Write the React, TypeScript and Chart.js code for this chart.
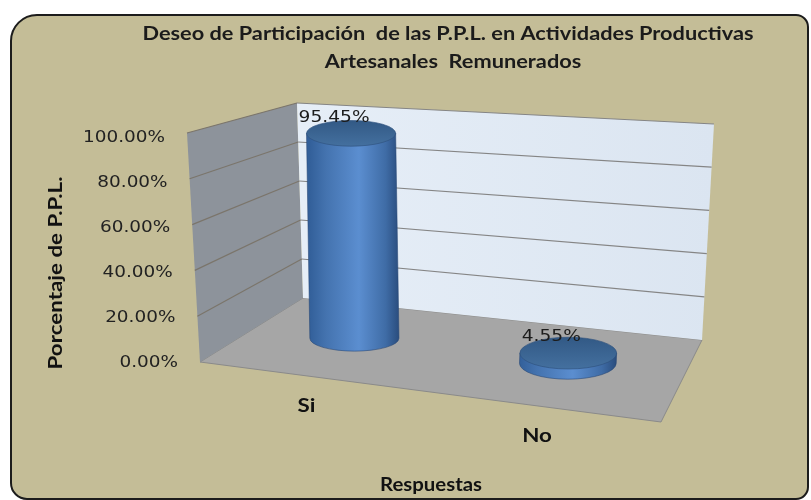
import React, { useEffect, useRef } from "react";
import { Chart, registerables } from "chart.js";

Chart.register(...registerables);

// ---------- data ----------
const titleLines = [
  "Deseo de Participación  de las P.P.L. en Actividades Productivas",
  "Artesanales  Remunerados",
];
const categories = ["Si", "No"];
const percentages = [95.45, 4.55];
const yTickValues = [0, 20, 40, 60, 80, 100];
const yAxisTitle = "Porcentaje de P.P.L.";
const xAxisTitle = "Respuestas";

// ---------- 3D box geometry (front/back, left/right, bottom/top) ----------
type Pt = [number, number];
const FLB: Pt = [200, 362];
const FRB: Pt = [661, 422];
const BLB: Pt = [303, 298];
const BRB: Pt = [702, 340];
const FLT: Pt = [187, 133];
const FRT: Pt = [681, 176];
const BLT: Pt = [297, 103];
const BRT: Pt = [714, 124];
const BAR_DEPTH = 0.55;
const BAR_SHIFT = -0.021;

const lerp = (a: Pt, b: Pt, t: number): Pt => [a[0] + (b[0] - a[0]) * t, a[1] + (b[1] - a[1]) * t];
function P(u: number, v: number, w: number): Pt {
  const fb = lerp(FLB, FRB, u);
  const bb = lerp(BLB, BRB, u);
  const ft = lerp(FLT, FRT, u);
  const bt = lerp(BLT, BRT, u);
  return lerp(lerp(fb, bb, w), lerp(ft, bt, w), v);
}

const pct = (n: number) => n.toFixed(2) + "%";

// horizontal scale factor so that text drawn at `size` has width `target`
function squeeze(ctx: CanvasRenderingContext2D, text: string, font: string, target: number) {
  ctx.font = font;
  return target / ctx.measureText(text).width;
}
function fillScaled(ctx: CanvasRenderingContext2D, text: string, x: number, y: number, sx: number, rot = 0) {
  ctx.save();
  ctx.translate(x, y);
  if (rot) ctx.rotate(rot);
  ctx.scale(sx, 1);
  ctx.fillText(text, 0, 0);
  ctx.restore();
}

function poly(ctx: CanvasRenderingContext2D, pts: Pt[]) {
  ctx.beginPath();
  ctx.moveTo(pts[0][0], pts[0][1]);
  for (let i = 1; i < pts.length; i++) ctx.lineTo(pts[i][0], pts[i][1]);
  ctx.closePath();
}

const BOLD_FONT = "bold 18.5px Lato, 'Open Sans', sans-serif";
const AXIS_FONT = "bold 18px Lato, 'Open Sans', sans-serif";
const TICK_FONT = "16.5px 'DejaVu Sans', Verdana, sans-serif";
const DATA_FONT = "16.5px 'DejaVu Sans', Verdana, sans-serif";

const scenePlugin = {
  id: "scene3d",
  beforeDatasetsDraw(chart: any) {
    const ctx: CanvasRenderingContext2D = chart.ctx;
    const area = chart.chartArea;
    const yScale = chart.scales.y;
    ctx.save();

    // frame
    ctx.fillStyle = "#ffffff";
    ctx.fillRect(0, 0, chart.width, chart.height);
    ctx.beginPath();
    (ctx as any).roundRect(11, 15, 797, 484, [26, 12, 12, 16]);
    ctx.fillStyle = "#C4BD97";
    ctx.fill();
    ctx.lineWidth = 2;
    ctx.strokeStyle = "#1c1c1c";
    ctx.stroke();

    // title
    ctx.fillStyle = "#1b1b1b";
    ctx.textAlign = "center";
    ctx.textBaseline = "middle";
    const tsx = squeeze(ctx, titleLines[0], BOLD_FONT, 611);
    fillScaled(ctx, titleLines[0], 448, 34, tsx);
    fillScaled(ctx, titleLines[1], 453, 62, tsx);

    // floor
    poly(ctx, [P(0, 0, 0), P(1, 0, 0), P(1, 0, 1), P(0, 0, 1)]);
    ctx.fillStyle = "#A6A6A6";
    ctx.fill();
    ctx.strokeStyle = "#8a8a8a";
    ctx.lineWidth = 1;
    ctx.stroke();

    // left wall
    poly(ctx, [P(0, 0, 0), P(0, 1, 0), P(0, 1, 1), P(0, 0, 1)]);
    ctx.fillStyle = "#8D939B";
    ctx.fill();

    // back wall
    const bw = [P(0, 0, 1), P(0, 1, 1), P(1, 1, 1), P(1, 0, 1)];
    const g = ctx.createLinearGradient(bw[0][0], 0, bw[2][0], 0);
    g.addColorStop(0, "#E6EEF7");
    g.addColorStop(1, "#DBE5F1");
    poly(ctx, bw);
    ctx.fillStyle = g;
    ctx.fill();

    // gridlines
    const h = area.bottom - area.top;
    yScale.ticks.forEach((t: any) => {
      const v = (area.bottom - yScale.getPixelForValue(t.value)) / h;
      if (v <= 0.001) return;
      const a = P(0, v, 0), b = P(0, v, 1), c = P(1, v, 1);
      ctx.lineWidth = 1.2;
      ctx.strokeStyle = "#7B756B";
      ctx.beginPath();
      ctx.moveTo(a[0], a[1]);
      ctx.lineTo(b[0], b[1]);
      ctx.stroke();
      ctx.strokeStyle = "#858585";
      ctx.beginPath();
      ctx.moveTo(b[0], b[1]);
      ctx.lineTo(c[0], c[1]);
      ctx.stroke();
    });

    // tick labels along the front-left edge
    ctx.fillStyle = "#222222";
    ctx.textAlign = "right";
    ctx.textBaseline = "middle";
    const ksx = squeeze(ctx, "100.00%", TICK_FONT, 82);
    yScale.ticks.forEach((t: any) => {
      const py = yScale.getPixelForValue(t.value);
      const v = (area.bottom - py) / h;
      const e = P(0, v, 0);
      fillScaled(ctx, pct(t.value), e[0] - 22, py + 1, ksx);
    });

    // axis titles
    ctx.fillStyle = "#111111";
    ctx.textAlign = "center";
    const ysx = squeeze(ctx, yAxisTitle, AXIS_FONT, 193);
    fillScaled(ctx, yAxisTitle, 56, 273, ysx, -Math.PI / 2);
    const xsx = squeeze(ctx, xAxisTitle, AXIS_FONT, 102);
    fillScaled(ctx, xAxisTitle, 431, 485, xsx);

    ctx.restore();
  },
  afterDatasetsDraw(chart: any) {
    const ctx: CanvasRenderingContext2D = chart.ctx;
    const area = chart.chartArea;
    const meta = chart.getDatasetMeta(0);
    const h = area.bottom - area.top;
    const w = area.right - area.left;
    ctx.save();
    const dsx = squeeze(ctx, "95.45%", DATA_FONT, 71);
    meta.data.forEach((bar: any, i: number) => {
      const p = bar.getProps(["x", "y", "base", "width"], true);
      const u = (p.x - area.left) / w + BAR_SHIFT;
      const v = (area.bottom - p.y) / h;
      const v0 = (area.bottom - p.base) / h;
      const B = P(u, v0, BAR_DEPTH);
      const T = P(u, v, BAR_DEPTH);
      const rx = (p.width / 2) * (0.96 + 0.17 * u);
      const ry = rx * (0.27 + 0.08 * u);

      // side
      const sg = ctx.createLinearGradient(B[0] - rx, 0, B[0] + rx, 0);
      sg.addColorStop(0, "#33609A");
      sg.addColorStop(0.18, "#4473AF");
      sg.addColorStop(0.55, "#5B8ED0");
      sg.addColorStop(0.85, "#3F6CA6");
      sg.addColorStop(1, "#2A4D7E");
      ctx.beginPath();
      ctx.moveTo(T[0] - rx, T[1]);
      ctx.lineTo(B[0] - rx, B[1]);
      ctx.ellipse(B[0], B[1], rx, ry, 0, Math.PI, 0, true);
      ctx.lineTo(T[0] + rx, T[1]);
      ctx.closePath();
      ctx.fillStyle = sg;
      ctx.fill();
      ctx.strokeStyle = "rgba(40,70,115,0.7)";
      ctx.lineWidth = 0.8;
      ctx.stroke();

      // top
      const tg = ctx.createLinearGradient(0, T[1] - ry, 0, T[1] + ry);
      tg.addColorStop(0, "#325985");
      tg.addColorStop(1, "#44709F");
      ctx.beginPath();
      ctx.ellipse(T[0], T[1], rx, ry, 0, 0, Math.PI * 2);
      ctx.fillStyle = tg;
      ctx.fill();
      ctx.strokeStyle = "rgba(45,80,125,0.8)";
      ctx.stroke();

      // value label
      ctx.fillStyle = "#1c1c1c";
      ctx.textAlign = "center";
      ctx.textBaseline = "middle";
      ctx.font = DATA_FONT;
      fillScaled(ctx, pct(percentages[i]), T[0] - 17, T[1] - 16, dsx);

      // category label
      const f = P(u, 0, 0);
      ctx.fillStyle = "#111111";
      ctx.font = AXIS_FONT;
      fillScaled(ctx, categories[i], f[0] + 1, f[1] + 30, ysx_cache);
    });
    ctx.restore();
  },
};
let ysx_cache = 0.9;

export default function App() {
  const ref = useRef<HTMLCanvasElement | null>(null);
  useEffect(() => {
    if (!ref.current) return;
    const c = document.createElement("canvas").getContext("2d");
    if (c) ysx_cache = squeeze(c, yAxisTitle, AXIS_FONT, 193);
    const chart = new Chart(ref.current, {
      type: "bar",
      data: {
        labels: categories,
        datasets: [
          {
            data: percentages,
            backgroundColor: "rgba(0,0,0,0)",
            borderWidth: 0,
            barPercentage: 0.35,
            categoryPercentage: 1,
          },
        ],
      },
      options: {
        responsive: false,
        animation: false,
        devicePixelRatio: 1,
        layout: { padding: { left: 188, top: 137, right: 113, bottom: 138 } },
        scales: {
          x: { display: false },
          y: {
            display: false,
            min: 0,
            max: 100,
            afterBuildTicks: (s: any) => {
              s.ticks = yTickValues.map((v) => ({ value: v }));
            },
          },
        },
        plugins: {
          legend: { display: false },
          title: { display: false },
          tooltip: { enabled: false },
        },
      },
      plugins: [scenePlugin],
    } as any);
    return () => chart.destroy();
  }, []);
  return (
    <div style={{ position: "absolute", left: 0, top: 0, width: 811, height: 500 }}>
      <canvas ref={ref} width={811} height={500} style={{ display: "block" }} />
    </div>
  );
}
